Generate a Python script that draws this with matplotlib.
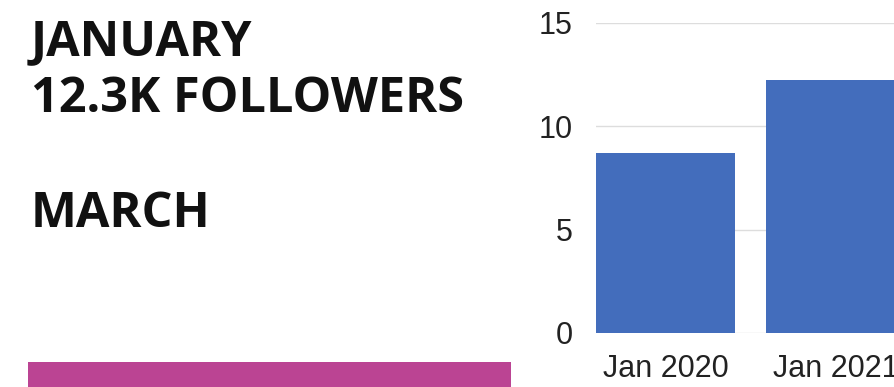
import matplotlib.pyplot as plt
from matplotlib.patches import Rectangle

# follower counts (thousands)
months = ["Jan 2020", "Jan 2021"]
followers = [8.7, 12.25]
y_ticks = [0, 5, 10, 15]

W, H = 894, 387
fig = plt.figure(figsize=(W / 100, H / 100), dpi=100)
fig.patch.set_facecolor("white")

# headline text on the left
head = dict(fontfamily="Open Sans", fontweight="bold", fontsize=35,
            color="#111111", va="baseline", ha="left")
fig.text(31 / W, 1 - 55 / H, "JANUARY", **head)
fig.text(31 / W, 1 - 112 / H, "12.3K FOLLOWERS", **head)
fig.text(31 / W, 1 - 227 / H, "MARCH", **head)

# magenta strip along the bottom
fig.patches.append(Rectangle((28 / W, 0), (511 - 28) / W, (H - 362) / H,
                             transform=fig.transFigure, facecolor="#BB4493",
                             edgecolor="none"))

# bar chart on the right
ax = fig.add_axes([596 / W, 1 - 333 / H, 1 - 596 / W, (333 - 23) / H])
ax.bar(range(len(months)), followers, width=0.82, color="#436DBC", zorder=2)
ax.set_xlim(-0.41, -0.41 + (W - 596) / 170)
ax.set_ylim(0, 15)
ax.set_yticks(y_ticks)
ax.set_xticks(range(len(months)))
ax.set_xticklabels(months)
ax.grid(axis="y", color="#dddddd", linewidth=1, zorder=0)
ax.set_axisbelow(True)
for s in ax.spines.values():
    s.set_visible(False)
ax.tick_params(length=0, labelsize=22, labelcolor="#222222")
ax.tick_params(axis="x", pad=15)
ax.tick_params(axis="y", pad=17)
for lab in ax.get_xticklabels() + ax.get_yticklabels():
    lab.set_fontfamily("Liberation Sans")

fig.savefig("out.png", dpi=100)
